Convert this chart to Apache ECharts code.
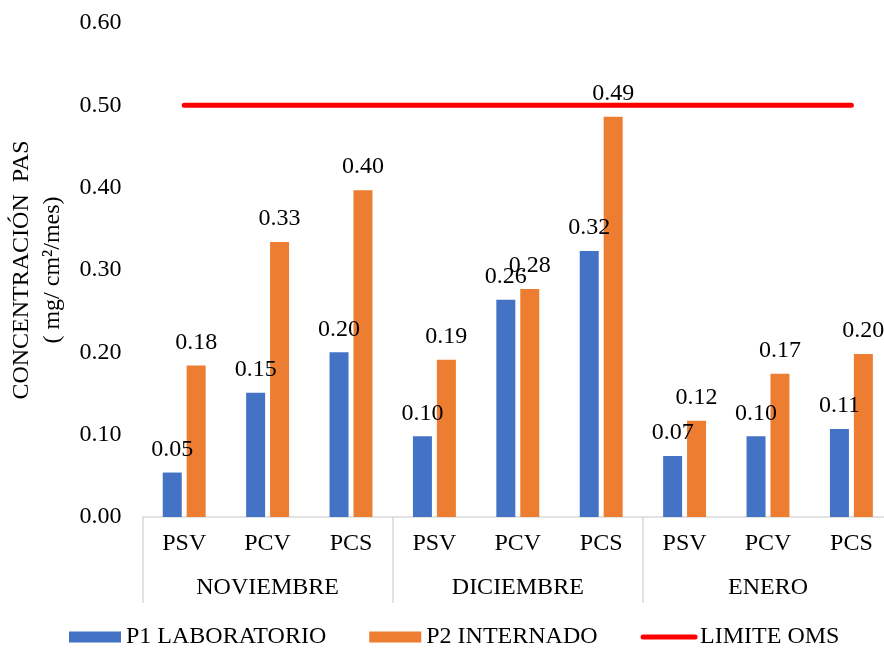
<!DOCTYPE html>
<html>
<head>
<meta charset="utf-8">
<title>Concentración PAS</title>
<script src="https://cdn.jsdelivr.net/npm/echarts@6/dist/echarts.min.js"></script>
<style>
  html, body { margin: 0; padding: 0; background: #fff; }
  #chart { width: 884px; height: 648px; }
</style>
</head>
<body>
<div id="chart"></div>
<script>
// Sampling points (lower axis row) and months (upper grouping row)
const puntos = ['PSV', 'PCV', 'PCS', 'PSV', 'PCV', 'PCS', 'PSV', 'PCV', 'PCS'];
const meses = ['NOVIEMBRE', 'DICIEMBRE', 'ENERO'];

// Concentration values, mg/cm²/mes
const p1Laboratorio = [0.054, 0.151, 0.200, 0.098, 0.264, 0.323, 0.074, 0.098, 0.107];
const p2Internado = [0.184, 0.334, 0.397, 0.191, 0.277, 0.486, 0.117, 0.174, 0.198];
const limiteOms = [0.50, 0.50, 0.50, 0.50, 0.50, 0.50, 0.50, 0.50, 0.50];

// Y axis range
const yMin = 0;
const yMax = 0.6;
const yStep = 0.1;

const FONT = "'Liberation Serif', 'Times New Roman', serif";
const GRID_LINE = '#d9d9d9';

const chart = echarts.init(document.getElementById('chart'), null, { renderer: 'canvas' });

const barLabel = {
  show: true,
  position: 'top',
  distance: 11,
  fontFamily: FONT,
  fontSize: 24,
  color: '#000',
  formatter: p => p.value.toFixed(2)
};

chart.setOption({
  animation: false,
  textStyle: { fontFamily: FONT, color: '#000' },
  grid: { left: 142.5, top: 23, width: 750.6, height: 494, outerBoundsMode: 'none', containLabel: false },
  legend: {
    left: 69,
    top: 625,
    padding: 0,
    itemWidth: 52,
    itemHeight: 11,
    itemGap: 43,
    textStyle: { fontFamily: FONT, fontSize: 24, color: '#000' },
    data: [
      { name: 'P1 LABORATORIO', icon: 'rect' },
      { name: 'P2 INTERNADO', icon: 'rect' },
      {
        name: 'LIMITE OMS',
        itemStyle: { opacity: 0 },
        lineStyle: { color: '#FF0000', width: 5, cap: 'round' }
      }
    ]
  },
  xAxis: [
    {
      type: 'category',
      data: puntos,
      axisLine: { show: true, lineStyle: { color: GRID_LINE, width: 1.5 } },
      axisTick: { show: false },
      axisLabel: { interval: 0, margin: 15, fontFamily: FONT, fontSize: 24, color: '#000' }
    },
    {
      type: 'category',
      data: meses,
      position: 'bottom',
      axisLine: { show: false },
      axisTick: { show: true, interval: 0, length: 86, lineStyle: { color: GRID_LINE, width: 1.5 } },
      axisLabel: { interval: 0, margin: 59, fontFamily: FONT, fontSize: 24, color: '#000' }
    }
  ],
  yAxis: {
    type: 'value',
    min: yMin,
    max: yMax,
    interval: yStep,
    name: 'CONCENTRACIÓN  PAS\n( mg/ cm²/mes)',
    nameLocation: 'middle',
    nameRotate: 90,
    nameGap: 63,
    nameTextStyle: { fontFamily: FONT, fontSize: 24, color: '#000', lineHeight: 31 },
    axisLine: { show: false },
    axisTick: { show: false },
    splitLine: { show: false },
    axisLabel: {
      margin: 21,
      fontFamily: FONT,
      fontSize: 24,
      color: '#000',
      formatter: v => v.toFixed(2)
    }
  },
  series: [
    {
      name: 'P1 LABORATORIO',
      type: 'bar',
      xAxisIndex: 0,
      data: p1Laboratorio,
      barWidth: 19,
      barGap: '26%',
      itemStyle: { color: '#4472C4' },
      label: barLabel
    },
    {
      name: 'P2 INTERNADO',
      type: 'bar',
      xAxisIndex: 0,
      data: p2Internado,
      barWidth: 19,
      barGap: '26%',
      itemStyle: { color: '#ED7D31' },
      label: barLabel
    },
    {
      name: 'LIMITE OMS',
      type: 'line',
      xAxisIndex: 0,
      data: limiteOms,
      symbol: 'none',
      showSymbol: false,
      z: 5,
      itemStyle: { color: '#FF0000' },
      lineStyle: { color: '#FF0000', width: 5, cap: 'round' }
    }
  ]
});
</script>
</body>
</html>
